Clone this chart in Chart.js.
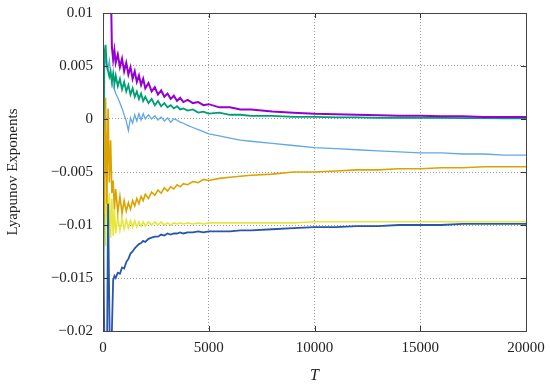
<!DOCTYPE html>
<html>
<head>
<meta charset="utf-8">
<script src="https://cdn.jsdelivr.net/npm/chart.js@4/dist/chart.umd.min.js"></script>
<style>
  html, body { margin: 0; padding: 0; background: #fff; }
  #wrap { width: 550px; height: 385px; }
</style>
</head>
<body>
<div id="wrap"><canvas id="lyapChart" width="550" height="385"></canvas></div>
<script>
// time samples (shared by every exponent)
const T = [0, 60, 120, 180, 240, 300, 360, 420, 480, 540, 600,
  700, 800, 900, 1000, 1100, 1200, 1300, 1400, 1500, 1600, 1700, 1800, 1900, 2000,
  2150, 2300, 2450, 2600, 2750, 2900, 3050, 3200, 3350, 3500, 3650, 3800,
  4000, 4250, 4500, 4750, 5000, 5500, 6000, 6500, 7000,
  8000, 9000, 10000, 11000, 12000, 13000, 14000, 15000, 16000, 17000, 18000, 19000, 20000];

const purple = [0.009, 0.02, 0.03, 0.03, 0.025, 0.02, 0.014, 0.0068, 0.0056, 0.0065, 0.0053,
  0.0061, 0.0049, 0.0057, 0.0045, 0.0053, 0.0042, 0.0049, 0.0038, 0.0045, 0.0035, 0.0041, 0.0032, 0.0038, 0.0029,
  0.0034, 0.0026, 0.0030, 0.0023, 0.0027, 0.0021, 0.0024, 0.0019, 0.0022, 0.0017, 0.0020, 0.0016,
  0.0018, 0.0015, 0.0016, 0.0013, 0.0014, 0.0011, 0.0011, 0.0009, 0.0009,
  0.0007, 0.0006, 0.0005, 0.00045, 0.0004, 0.00035, 0.0003, 0.0003, 0.00025, 0.00025, 0.0002, 0.0002, 0.00018];

const green = [-0.03, 0.006, 0.007, 0.005, 0.0045, 0.004, 0.0045, 0.0035, 0.0043, 0.0033, 0.0041,
  0.0031, 0.0038, 0.0028, 0.0035, 0.0026, 0.0032, 0.0023, 0.0029, 0.0021, 0.0026, 0.0019, 0.0024, 0.0017, 0.0021,
  0.0015, 0.0019, 0.0013, 0.0017, 0.0012, 0.0015, 0.0011, 0.0013, 0.0010, 0.0012, 0.0009, 0.0010,
  0.0008, 0.0009, 0.0006, 0.0007, 0.0005, 0.0006, 0.0004, 0.0004, 0.0003,
  0.0003, 0.0002, 0.0002, 0.00015, 0.00015, 0.0001, 0.0001, 0.0001, 0.0001, 0.00008, 0.00008, 0.00006, 0.00005];

const skyblue = [0.007, 0.0045, 0.006, 0.005, 0.0048, 0.0055, 0.0042, 0.0035, 0.0030, 0.0028, 0.0024,
  0.0020, 0.0015, 0.0010, 0.0004, -0.0002, -0.0011, 0.0001, -0.0004, 0.0004, -0.0002, 0.0005, -0.0001, 0.0005, 0.0000,
  0.0004, 0.0000, 0.0003, -0.0001, 0.0002, -0.0002, 0.0001, -0.0003, 0.0000, -0.0001, -0.0003, -0.0004,
  -0.0006, -0.0008, -0.0010, -0.0012, -0.0014, -0.0016, -0.0018, -0.0020, -0.0021,
  -0.0023, -0.0025, -0.0027, -0.0028, -0.0029, -0.0030, -0.0031, -0.0032, -0.0032, -0.0033, -0.0033, -0.0034, -0.0034];

const gold = [0.003, -0.009, 0.002, -0.008, 0.001, -0.006, -0.002, -0.007, -0.0058, -0.0085, -0.0066,
  -0.0088, -0.0073, -0.0089, -0.0077, -0.0087, -0.0079, -0.0085, -0.0077, -0.0082, -0.0075, -0.0080, -0.0073, -0.0077, -0.0071,
  -0.0075, -0.0069, -0.0072, -0.0067, -0.0070, -0.0065, -0.0068, -0.0064, -0.0066, -0.0062, -0.0064, -0.0061,
  -0.0062, -0.0059, -0.0060, -0.0057, -0.0058, -0.0056, -0.0055, -0.0054, -0.0053,
  -0.0052, -0.0050, -0.0050, -0.0049, -0.0048, -0.0048, -0.0047, -0.0047, -0.0046, -0.0046, -0.0045, -0.0045, -0.0045];

const yellow = [-0.01, -0.006, -0.012, -0.005, -0.011, -0.007, -0.0112, -0.0075, -0.0110, -0.0085, -0.0108,
  -0.0092, -0.0105, -0.0094, -0.0104, -0.0095, -0.0103, -0.0096, -0.0102, -0.0096, -0.0102, -0.0097, -0.0101, -0.0097, -0.0101,
  -0.0097, -0.0100, -0.0097, -0.0100, -0.0097, -0.0100, -0.0098, -0.0100, -0.0098, -0.0099, -0.0098, -0.0099,
  -0.0098, -0.0099, -0.0098, -0.0099, -0.0098, -0.0098, -0.0098, -0.0098, -0.0098,
  -0.0098, -0.0098, -0.0097, -0.0097, -0.0097, -0.0097, -0.0097, -0.0097, -0.0097, -0.0097, -0.0097, -0.0097, -0.0097];

const blue = [-0.012, -0.02, -0.03, -0.025, -0.008, -0.018, -0.028, -0.02, -0.0152, -0.0148, -0.0150,
  -0.0145, -0.0146, -0.0140, -0.0141, -0.0135, -0.0132, -0.0127, -0.0125, -0.0122, -0.0120, -0.0118, -0.0117, -0.0115, -0.0116,
  -0.0113, -0.0112, -0.0111, -0.0111, -0.0109, -0.0110, -0.0108, -0.0109, -0.0108, -0.0108, -0.0107, -0.0108,
  -0.0107, -0.0107, -0.0106, -0.0107, -0.0106, -0.0106, -0.0106, -0.0105, -0.0105,
  -0.0104, -0.0103, -0.0102, -0.0102, -0.0101, -0.0101, -0.0100, -0.0100, -0.0100, -0.0099, -0.0099, -0.0099, -0.0099];

const xTicks = [0, 5000, 10000, 15000, 20000];
const yTicks = [-0.02, -0.015, -0.01, -0.005, 0, 0.005, 0.01];
const yTickLabels = ["\u22120.02", "\u22120.015", "\u22120.01", "\u22120.005", "0", "0.005", "0.01"];

const FONT = "'Liberation Serif', 'DejaVu Serif', serif";

function series(values, color, width) {
  return {
    data: T.map((t, i) => ({ x: t, y: values[i] })),
    borderColor: color,
    borderWidth: width,
    pointRadius: 0,
    fill: false,
    tension: 0
  };
}

// frame box and small inward tick marks, gnuplot style
const frameTicks = {
  id: "frameTicks",
  afterDatasetsDraw(chart) {
    const { ctx, chartArea: a, scales } = chart;
    ctx.save();
    ctx.strokeStyle = "#333";
    ctx.lineWidth = 1;
    ctx.beginPath();
    xTicks.forEach(v => {
      const px = Math.round(scales.x.getPixelForValue(v)) + 0.5;
      ctx.moveTo(px, a.bottom); ctx.lineTo(px, a.bottom - 5);
      ctx.moveTo(px, a.top); ctx.lineTo(px, a.top + 5);
    });
    yTicks.forEach(v => {
      const py = Math.round(scales.y.getPixelForValue(v)) + 0.5;
      ctx.moveTo(a.left, py); ctx.lineTo(a.left + 5, py);
      ctx.moveTo(a.right, py); ctx.lineTo(a.right - 5, py);
    });
    ctx.stroke();
    ctx.strokeStyle = "#444";
    ctx.strokeRect(Math.round(a.left) + 0.5, Math.round(a.top) + 0.5,
      Math.round(a.right - a.left), Math.round(a.bottom - a.top));
    ctx.restore();
  }
};

const gridOpts = { color: "#9a9a9a", drawTicks: false };
const borderOpts = { display: false, dash: [1, 2] };

const ctx = document.getElementById("lyapChart").getContext("2d");
new Chart(ctx, {
  type: "line",
  data: {
    datasets: [
      series(purple, "#9400d3", 2),
      series(blue, "#2a55ae", 1.8),
      series(gold, "#dba400", 1.6),
      series(green, "#009e73", 1.8),
      series(skyblue, "#62a8e6", 1.3),
      series(yellow, "#e6e640", 1.6)
    ]
  },
  options: {
    responsive: false,
    animation: false,
    layout: { padding: { top: 13, right: 24, left: 4, bottom: 0 } },
    plugins: { legend: { display: false }, tooltip: { enabled: false } },
    scales: {
      x: {
        type: "linear",
        min: 0,
        max: 20000,
        afterBuildTicks: s => { s.ticks = xTicks.map(v => ({ value: v })); },
        afterFit: s => { s.height = 54; s.paddingLeft = 0; s.paddingRight = 0; },
        grid: gridOpts,
        border: borderOpts,
        ticks: {
          padding: 8,
          color: "#222",
          font: { family: FONT, size: 15 },
          maxRotation: 0,
          callback: v => String(v)
        },
        title: {
          display: true,
          text: "T",
          color: "#222",
          padding: { top: 2, bottom: 0 },
          font: { family: FONT, size: 16, style: "italic" }
        }
      },
      y: {
        type: "linear",
        min: -0.02,
        max: 0.01,
        afterBuildTicks: s => { s.ticks = yTicks.map(v => ({ value: v })); },
        afterFit: s => { s.width = 99; s.paddingTop = 0; s.paddingBottom = 0; },
        grid: gridOpts,
        border: borderOpts,
        ticks: {
          padding: 10,
          color: "#222",
          font: { family: FONT, size: 15 },
          callback: (v, i) => yTickLabels[i]
        },
        title: {
          display: true,
          text: "Lyapunov Exponents",
          color: "#222",
          padding: { top: 0, bottom: 2 },
          font: { family: FONT, size: 15 }
        }
      }
    }
  },
  plugins: [frameTicks]
});
</script>
</body>
</html>
